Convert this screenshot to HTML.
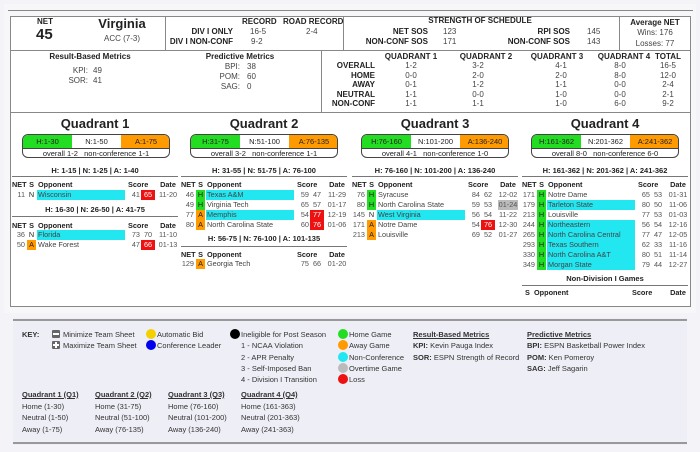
<!DOCTYPE html>
<html><head><meta charset="utf-8"><style>
*{margin:0;padding:0;box-sizing:border-box}
body{width:700px;height:452px;background:#f3f3f8;font-family:"Liberation Sans",Arial,sans-serif;color:#222;position:relative;overflow:hidden}
.a{position:absolute;white-space:nowrap}
.b{font-weight:bold}
.c{text-align:center}
.rt{text-align:right}
.f8{font-size:8px}
.f9{font-size:8px}
.g{color:#444}
.q{position:absolute;top:112px;height:194px}
.ttl{position:absolute;left:0;width:166px;top:116px;text-align:center;font-weight:bold;font-size:13px}
.pill{position:absolute;top:134px;width:148px;height:24px;border:1px solid #444;border-radius:6px;overflow:hidden;background:#fff;font-size:7.5px}
.pill .h,.pill .n,.pill .o{position:absolute;top:0;height:13px;line-height:13px;text-align:center;width:49px}
.pill .h{left:0;background:#22dd22}.pill .n{left:49px}.pill .o{left:98px;width:50px;background:#ff9a00}
.pill .bt{position:absolute;top:13px;left:0;width:146px;height:10px;line-height:10px;text-align:center;border-top:1px solid #444;font-size:7.5px}
.sub{position:absolute;left:0;width:166px;text-align:center;font-weight:bold;font-size:7.5px;height:10px;line-height:10px;white-space:nowrap}
.ln{position:absolute;left:0;width:166px;height:1px;background:#777}
.r{position:absolute;left:0;width:166px;height:10px;line-height:10px;font-size:7.3px;color:#555}
.r span{position:absolute;top:0;height:10px;white-space:nowrap;overflow:hidden}
.r .n{left:0;width:13px;text-align:right;overflow:visible}
.r .s{left:15px;width:9px;text-align:center;color:#222}
.r .o{left:25px;width:88px;padding-left:1px;color:#444}
.r .x{left:116px;width:12px;text-align:right}
.r .y{left:129px;width:14px;text-align:center}
.r .d{left:146px;width:20px;text-align:center}
.hd{color:#222;font-weight:bold}
.hd span{overflow:visible}
.H{background:#22dd22}.A{background:#ff9a00}.C{background:#22e6f0}.L{background:#ee1111;color:#fff!important}.O{background:#bbb}
.dot{position:absolute;width:10px;height:10px;border-radius:50%}
.k{font-size:7.5px;color:#333;line-height:11px}
</style></head><body>
<div class="a" style="left:4px;top:4px;width:692px;height:309px;background:#f7f7fa"></div>
<div class="a" style="left:8px;top:10px;width:685px;height:1px;background:#888"></div>
<div class="a" style="left:10px;top:16px;width:681px;height:291px;background:#fff;border:1px solid #888"></div>
<div class="a" style="left:10px;top:50px;width:681px;height:1px;background:#888"></div>
<div class="a" style="left:165px;top:16px;width:1px;height:34px;background:#888"></div>
<div class="a" style="left:343px;top:16px;width:1px;height:34px;background:#888"></div>
<div class="a" style="left:619px;top:16px;width:1px;height:34px;background:#888"></div>
<div class="a" style="left:321px;top:50px;width:1px;height:62px;background:#888"></div>
<div class="a" style="left:10px;top:112px;width:681px;height:1px;background:#888"></div>

<div class="a b f9" style="left:37px;top:17px">NET</div>
<div class="a b" style="left:36px;top:26px;font-size:15px">45</div>
<div class="a b c" style="left:82px;top:16px;width:80px;font-size:13px">Virginia</div>
<div class="a c f9 g" style="left:82px;top:34px;width:80px">ACC (7-3)</div>
<div class="a b f9" style="left:242px;top:17px">RECORD</div>
<div class="a b f9" style="left:283px;top:17px">ROAD RECORD</div>
<div class="a b f9 rt" style="left:160px;top:27px;width:73px">DIV I ONLY</div>
<div class="a b f9 rt" style="left:160px;top:37px;width:73px">DIV I NON-CONF</div>
<div class="a f9 g" style="left:250px;top:27px">16-5</div>
<div class="a f9 g" style="left:251px;top:37px">9-2</div>
<div class="a f9 g" style="left:306px;top:27px">2-4</div>
<div class="a b f9 c" style="left:380px;top:16px;width:200px">STRENGTH OF SCHEDULE</div>
<div class="a b f9 rt" style="left:360px;top:27px;width:68px">NET SOS</div>
<div class="a b f9 rt" style="left:360px;top:37px;width:68px">NON-CONF SOS</div>
<div class="a f9 g" style="left:443px;top:27px">123</div>
<div class="a f9 g" style="left:443px;top:37px">171</div>
<div class="a b f9 rt" style="left:500px;top:27px;width:70px">RPI SOS</div>
<div class="a b f9 rt" style="left:500px;top:37px;width:70px">NON-CONF SOS</div>
<div class="a f9 g" style="left:587px;top:27px">145</div>
<div class="a f9 g" style="left:587px;top:37px">143</div>
<div class="a b f9 c" style="left:620px;top:18px;width:70px">Average NET</div>
<div class="a f9 c g" style="left:620px;top:28px;width:70px">Wins: 176</div>
<div class="a f9 c g" style="left:620px;top:39px;width:70px">Losses: 77</div>

<div class="a b f9 c" style="left:30px;top:52px;width:120px">Result-Based Metrics</div>
<div class="a f9 rt g" style="left:50px;top:66px;width:38px">KPI:</div>
<div class="a f9 g" style="left:93px;top:66px">49</div>
<div class="a f9 rt g" style="left:50px;top:76px;width:38px">SOR:</div>
<div class="a f9 g" style="left:93px;top:76px">41</div>
<div class="a b f9 c" style="left:180px;top:52px;width:120px">Predictive Metrics</div>
<div class="a f9 rt g" style="left:200px;top:62px;width:40px">BPI:</div>
<div class="a f9 g" style="left:247px;top:62px">38</div>
<div class="a f9 rt g" style="left:200px;top:72px;width:40px">POM:</div>
<div class="a f9 g" style="left:247px;top:72px">60</div>
<div class="a f9 rt g" style="left:200px;top:82px;width:40px">SAG:</div>
<div class="a f9 g" style="left:247px;top:82px">0</div>

<div class="a b f9 c" style="left:381px;top:52px;width:60px">QUADRANT 1</div>
<div class="a b f9 c" style="left:456px;top:52px;width:60px">QUADRANT 2</div>
<div class="a b f9 c" style="left:527px;top:52px;width:60px">QUADRANT 3</div>
<div class="a b f9 c" style="left:594px;top:52px;width:60px">QUADRANT 4</div>
<div class="a b f9 c" style="left:648px;top:52px;width:40px">TOTAL</div>
<div class="a b f9 rt" style="left:320px;top:61px;width:55px;line-height:9.5px">OVERALL<br>HOME<br>AWAY<br>NEUTRAL<br>NON-CONF</div>
<div class="a f9 c g" style="left:396px;top:61px;width:30px;line-height:9.5px">1-2<br>0-0<br>0-1<br>1-1<br>1-1</div>
<div class="a f9 c g" style="left:463px;top:61px;width:30px;line-height:9.5px">3-2<br>2-0<br>1-2<br>0-0<br>1-1</div>
<div class="a f9 c g" style="left:546px;top:61px;width:30px;line-height:9.5px">4-1<br>2-0<br>1-1<br>1-0<br>1-0</div>
<div class="a f9 c g" style="left:605px;top:61px;width:30px;line-height:9.5px">8-0<br>8-0<br>0-0<br>0-0<br>6-0</div>
<div class="a f9 c g" style="left:652px;top:61px;width:32px;line-height:9.5px">16-5<br>12-0<br>2-4<br>2-1<br>9-2</div>

<div class="q" style="left:12px;width:166px;top:0;height:0">
<div class="ttl">Quadrant 1</div>
<div class="pill" style="left:10px"><div class="h">H:1-30</div><div class="n">N:1-50</div><div class="o">A:1-75</div><div class="bt">overall 1-2 &nbsp; non-conference 1-1</div></div>
<div class="sub" style="top:166px">H: 1-15 | N: 1-25 | A: 1-40</div>
<div class="ln" style="top:176px"></div>
<div class="r hd" style="top:180px"><span class="n">NET</span><span class="s">S</span><span class="o" style="color:#222">Opponent</span><span style="left:116px">Score</span><span class="d">Date</span></div>
<div class="r" style="top:190px"><span class="n">11</span><span class="s">N</span><span class="o C">Wisconsin</span><span class="x">41</span><span class="y L">65</span><span class="d">11-20</span></div>
<div class="sub" style="top:205px">H: 16-30 | N: 26-50 | A: 41-75</div>
<div class="ln" style="top:216px"></div>
<div class="r hd" style="top:221px"><span class="n">NET</span><span class="s">S</span><span class="o" style="color:#222">Opponent</span><span style="left:116px">Score</span><span class="d">Date</span></div>
<div class="r" style="top:230px"><span class="n">36</span><span class="s">N</span><span class="o C">Florida</span><span class="x">73</span><span class="y">70</span><span class="d">11-10</span></div>
<div class="r" style="top:240px"><span class="n">50</span><span class="s A">A</span><span class="o">Wake Forest</span><span class="x">47</span><span class="y L">66</span><span class="d">01-13</span></div>
</div>

<div class="q" style="left:181px;width:166px;top:0;height:0">
<div class="ttl">Quadrant 2</div>
<div class="pill" style="left:9px"><div class="h">H:31-75</div><div class="n">N:51-100</div><div class="o">A:76-135</div><div class="bt">overall 3-2 &nbsp; non-conference 1-1</div></div>
<div class="sub" style="top:166px">H: 31-55 | N: 51-75 | A: 76-100</div>
<div class="ln" style="top:176px"></div>
<div class="r hd" style="top:180px"><span class="n">NET</span><span class="s">S</span><span class="o" style="color:#222">Opponent</span><span style="left:116px">Score</span><span class="d">Date</span></div>
<div class="r" style="top:190px"><span class="n">46</span><span class="s H">H</span><span class="o C">Texas A&amp;M</span><span class="x">59</span><span class="y">47</span><span class="d">11-29</span></div>
<div class="r" style="top:200px"><span class="n">49</span><span class="s H">H</span><span class="o">Virginia Tech</span><span class="x">65</span><span class="y">57</span><span class="d">01-17</span></div>
<div class="r" style="top:210px"><span class="n">77</span><span class="s A">A</span><span class="o C">Memphis</span><span class="x">54</span><span class="y L">77</span><span class="d">12-19</span></div>
<div class="r" style="top:220px"><span class="n">80</span><span class="s A">A</span><span class="o">North Carolina State</span><span class="x">60</span><span class="y L">76</span><span class="d">01-06</span></div>
<div class="sub" style="top:234px">H: 56-75 | N: 76-100 | A: 101-135</div>
<div class="ln" style="top:246px"></div>
<div class="r hd" style="top:250px"><span class="n">NET</span><span class="s">S</span><span class="o" style="color:#222">Opponent</span><span style="left:116px">Score</span><span class="d">Date</span></div>
<div class="r" style="top:259px"><span class="n">129</span><span class="s A">A</span><span class="o">Georgia Tech</span><span class="x">75</span><span class="y">66</span><span class="d">01-20</span></div>
</div>

<div class="q" style="left:352px;width:166px;top:0;height:0">
<div class="ttl">Quadrant 3</div>
<div class="pill" style="left:9px"><div class="h">H:76-160</div><div class="n">N:101-200</div><div class="o">A:136-240</div><div class="bt">overall 4-1 &nbsp; non-conference 1-0</div></div>
<div class="sub" style="top:166px">H: 76-160 | N: 101-200 | A: 136-240</div>
<div class="ln" style="top:176px"></div>
<div class="r hd" style="top:180px"><span class="n">NET</span><span class="s">S</span><span class="o" style="color:#222">Opponent</span><span style="left:116px">Score</span><span class="d">Date</span></div>
<div class="r" style="top:190px"><span class="n">76</span><span class="s H">H</span><span class="o">Syracuse</span><span class="x">84</span><span class="y">62</span><span class="d">12-02</span></div>
<div class="r" style="top:200px"><span class="n">80</span><span class="s H">H</span><span class="o">North Carolina State</span><span class="x">59</span><span class="y">53</span><span class="d O">01-24</span></div>
<div class="r" style="top:210px"><span class="n">145</span><span class="s">N</span><span class="o C">West Virginia</span><span class="x">56</span><span class="y">54</span><span class="d">11-22</span></div>
<div class="r" style="top:220px"><span class="n">171</span><span class="s A">A</span><span class="o">Notre Dame</span><span class="x">54</span><span class="y L">76</span><span class="d">12-30</span></div>
<div class="r" style="top:230px"><span class="n">213</span><span class="s A">A</span><span class="o">Louisville</span><span class="x">69</span><span class="y">52</span><span class="d">01-27</span></div>
</div>

<div class="q" style="left:522px;width:167px;top:0;height:0">
<div class="ttl">Quadrant 4</div>
<div class="pill" style="left:9px"><div class="h">H:161-362</div><div class="n">N:201-362</div><div class="o">A:241-362</div><div class="bt">overall 8-0 &nbsp; non-conference 6-0</div></div>
<div class="sub" style="top:166px">H: 161-362 | N: 201-362 | A: 241-362</div>
<div class="ln" style="top:176px"></div>
<div class="r hd" style="top:180px"><span class="n">NET</span><span class="s">S</span><span class="o" style="color:#222">Opponent</span><span style="left:116px">Score</span><span class="d">Date</span></div>
<div class="r" style="top:190px"><span class="n">171</span><span class="s H">H</span><span class="o">Notre Dame</span><span class="x">65</span><span class="y">53</span><span class="d">01-31</span></div>
<div class="r" style="top:200px"><span class="n">179</span><span class="s H">H</span><span class="o C">Tarleton State</span><span class="x">80</span><span class="y">50</span><span class="d">11-06</span></div>
<div class="r" style="top:210px"><span class="n">213</span><span class="s H">H</span><span class="o">Louisville</span><span class="x">77</span><span class="y">53</span><span class="d">01-03</span></div>
<div class="r" style="top:220px"><span class="n">244</span><span class="s H">H</span><span class="o C">Northeastern</span><span class="x">56</span><span class="y">54</span><span class="d">12-16</span></div>
<div class="r" style="top:230px"><span class="n">265</span><span class="s H">H</span><span class="o C">North Carolina Central</span><span class="x">77</span><span class="y">47</span><span class="d">12-05</span></div>
<div class="r" style="top:240px"><span class="n">293</span><span class="s H">H</span><span class="o C">Texas Southern</span><span class="x">62</span><span class="y">33</span><span class="d">11-16</span></div>
<div class="r" style="top:250px"><span class="n">330</span><span class="s H">H</span><span class="o C">North Carolina A&amp;T</span><span class="x">80</span><span class="y">51</span><span class="d">11-14</span></div>
<div class="r" style="top:260px"><span class="n">349</span><span class="s H">H</span><span class="o C">Morgan State</span><span class="x">79</span><span class="y">44</span><span class="d">12-27</span></div>
<div class="sub" style="top:274px">Non-Division I Games</div>
<div class="ln" style="top:285px"></div>
<div class="r hd" style="top:288px"><span style="left:3px">S</span><span style="left:12px">Opponent</span><span style="left:110px">Score</span><span class="d">Date</span></div>
</div>

<div class="a" style="left:13px;top:318px;width:674px;height:127px;background:#eeeef6"></div>
<div class="a" style="left:13px;top:319px;width:674px;height:2px;background:#999"></div>
<div class="a" style="left:13px;top:442px;width:674px;height:2px;background:#999"></div>
<div class="a k b" style="left:22px;top:329px">KEY:</div>
<div class="a" style="left:52px;top:330px;width:8px;height:8px;background:#666;border-radius:1px"><div style="position:absolute;left:1px;top:3px;width:6px;height:2px;background:#fff"></div></div>
<div class="a k" style="left:63px;top:329px">Minimize Team Sheet</div>
<div class="a" style="left:52px;top:341px;width:8px;height:8px;background:#666;border-radius:1px"><div style="position:absolute;left:1px;top:3px;width:6px;height:2px;background:#fff"></div><div style="position:absolute;left:3px;top:1px;width:2px;height:6px;background:#fff"></div></div>
<div class="a k" style="left:63px;top:340px">Maximize Team Sheet</div>
<div class="dot" style="left:146px;top:329px;background:#f5d000"></div>
<div class="a k" style="left:157px;top:329px">Automatic Bid</div>
<div class="dot" style="left:146px;top:340px;background:#0000ee"></div>
<div class="a k" style="left:157px;top:340px">Conference Leader</div>
<div class="dot" style="left:230px;top:329px;background:#000"></div>
<div class="a k" style="left:241px;top:329px">Ineligible for Post Season</div>
<div class="a k" style="left:241px;top:340px">1 - NCAA Violation</div>
<div class="a k" style="left:241px;top:352px">2 - APR Penalty</div>
<div class="a k" style="left:241px;top:363px">3 - Self-Imposed Ban</div>
<div class="a k" style="left:241px;top:374px">4 - Division I Transition</div>
<div class="dot" style="left:338px;top:329px;background:#22dd22"></div>
<div class="a k" style="left:349px;top:329px">Home Game</div>
<div class="dot" style="left:338px;top:340px;background:#ff9a00"></div>
<div class="a k" style="left:349px;top:340px">Away Game</div>
<div class="dot" style="left:338px;top:352px;background:#22e6f0"></div>
<div class="a k" style="left:349px;top:352px">Non-Conference</div>
<div class="dot" style="left:338px;top:363px;background:#bbb"></div>
<div class="a k" style="left:349px;top:363px">Overtime Game</div>
<div class="dot" style="left:338px;top:374px;background:#ee1111"></div>
<div class="a k" style="left:349px;top:374px">Loss</div>
<div class="a k b" style="left:413px;top:329px;text-decoration:underline">Result-Based Metrics</div>
<div class="a k" style="left:413px;top:340px"><b>KPI:</b> Kevin Pauga Index</div>
<div class="a k" style="left:413px;top:352px"><b>SOR:</b> ESPN Strength of Record</div>
<div class="a k b" style="left:527px;top:329px;text-decoration:underline">Predictive Metrics</div>
<div class="a k" style="left:527px;top:340px"><b>BPI:</b> ESPN Basketball Power Index</div>
<div class="a k" style="left:527px;top:352px"><b>POM:</b> Ken Pomeroy</div>
<div class="a k" style="left:527px;top:363px"><b>SAG:</b> Jeff Sagarin</div>

<div class="a k" style="left:22px;top:389px;line-height:11.5px"><b style="text-decoration:underline">Quadrant 1 (Q1)</b><br>Home (1-30)<br>Neutral (1-50)<br>Away (1-75)</div>
<div class="a k" style="left:95px;top:389px;line-height:11.5px"><b style="text-decoration:underline">Quadrant 2 (Q2)</b><br>Home (31-75)<br>Neutral (51-100)<br>Away (76-135)</div>
<div class="a k" style="left:168px;top:389px;line-height:11.5px"><b style="text-decoration:underline">Quadrant 3 (Q3)</b><br>Home (76-160)<br>Neutral (101-200)<br>Away (136-240)</div>
<div class="a k" style="left:241px;top:389px;line-height:11.5px"><b style="text-decoration:underline">Quadrant 4 (Q4)</b><br>Home (161-363)<br>Neutral (201-363)<br>Away (241-363)</div>
</body></html>
